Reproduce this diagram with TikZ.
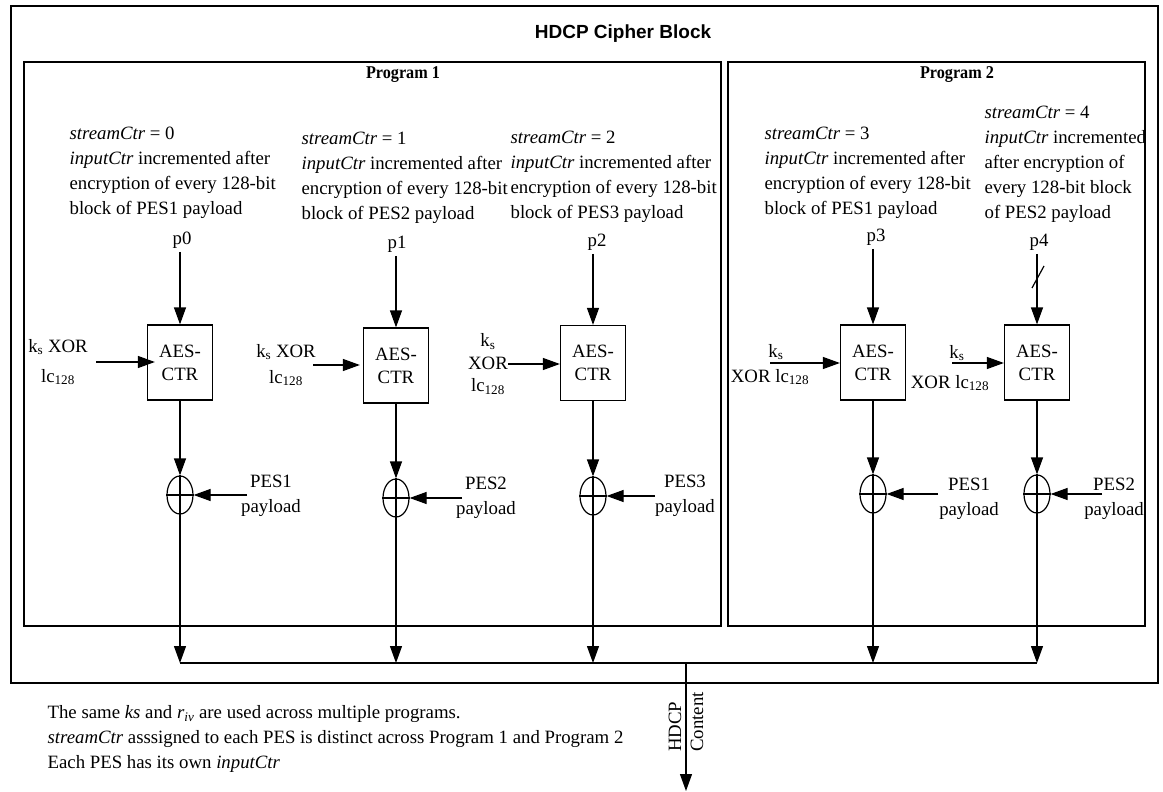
\documentclass[tikz,border=0pt]{standalone}
\usepackage{fontspec}
\usepackage{graphicx}
\setmainfont{Liberation Serif}
\newfontfamily\titlesans{Liberation Sans}
\usetikzlibrary{arrows.meta,shapes.geometric}
\begin{document}
\begin{tikzpicture}[x=1pt,y=-1pt,
  line width=1.2pt,
  tip/.style={-{Triangle[length=17pt,width=12pt]}},
  body/.style={font=\fontsize{18.8}{25}\selectfont, inner sep=0pt},
  desc/.style={body, align=left, anchor=north west},
  plabel/.style={font=\fontsize{18.8}{25}\selectfont, inner sep=3pt},
  progtitle/.style={font=\bfseries\fontsize{18}{20}\selectfont, inner sep=0pt},
  aes/.style={draw, minimum width=65pt, minimum height=75pt, inner sep=0pt, align=center, font=\fontsize{18.8}{23}\selectfont},
  xorc/.style={draw, ellipse, minimum width=26pt, minimum height=38pt, inner sep=0pt},
  frame/.style={draw, line width=1.5pt}]
\useasboundingbox (0,0) rectangle (1163,792);

% frames
\draw[frame] (11,6) rectangle (1158,683);
\node[font=\titlesans\bfseries\fontsize{19}{22}\selectfont, inner sep=0pt] (title) at (623,34) {HDCP Cipher Block};
\draw[frame] (24,62) rectangle (721,626);
\draw[frame] (728,62) rectangle (1145,626);
\node[progtitle] (prog1) at (403,75) {\scalebox{0.9}[1]{Program 1}};
\node[progtitle] (prog2) at (957,75) {\scalebox{0.9}[1]{Program 2}};

% descriptions
\node[desc] (d1) at (69,126) {\textit{streamCtr} = 0\\\textit{inputCtr} incremented after\\encryption of every 128-bit\\block of PES1 payload};
\node[desc] (d2) at (301,131) {\textit{streamCtr} = 1\\\textit{inputCtr} incremented after\\encryption of every 128-bit\\block of PES2 payload};
\node[desc] (d3) at (510,130) {\textit{streamCtr} = 2\\\textit{inputCtr} incremented after\\encryption of every 128-bit\\block of PES3 payload};
\node[desc] (d4) at (764,126) {\textit{streamCtr} = 3\\\textit{inputCtr} incremented after\\encryption of every 128-bit\\block of PES1 payload};
\node[desc] (d5) at (984,105) {\textit{streamCtr} = 4\\\textit{inputCtr} incremented\\after encryption of\\every 128-bit block\\of PES2 payload};

% p labels
\node[plabel] (p0) at (182,240) {p0};
\node[plabel] (p1) at (397,244) {p1};
\node[plabel] (p2) at (597,242) {p2};
\node[plabel] (p3) at (876,237) {p3};
\node[plabel] (p4) at (1039,242) {p4};

% AES boxes
\node[aes] (a1) at (180,362.5) {AES-\\CTR};
\node[aes] (a2) at (396,365.5) {AES-\\CTR};
\node[aes] (a3) at (593,363) {AES-\\CTR};
\node[aes] (a4) at (873,362.5) {AES-\\CTR};
\node[aes] (a5) at (1037,362.5) {AES-\\CTR};

\draw[tip] (a1.north |- p0.south) -- (a1.north);
\draw[tip] (a2.north |- p1.south) -- (a2.north);
\draw[tip] (a3.north |- p2.south) -- (a3.north);
\draw[tip] (a4.north |- p3.south) -- (a4.north);
\draw[tip] (a5.north |- p4.south) -- (a5.north);
\draw (1032,288) -- (1044,266);

% key inputs
\node[body, align=center, font=\fontsize{18.8}{30}\selectfont] (k1) at (58,362) {k\textsubscript{s} XOR\\lc\textsubscript{128}};
\node[body, align=center, font=\fontsize{18.8}{26}\selectfont] (k2) at (286,365) {k\textsubscript{s} XOR\\lc\textsubscript{128}};
\node[body, align=center, font=\fontsize{18.8}{22.5}\selectfont] (k3) at (488,364) {k\textsubscript{s}\\XOR\\lc\textsubscript{128}};
\node[body] (ks4) at (776,352) {k\textsubscript{s}};
\node[body] (kx4) at (770,377) {XOR lc\textsubscript{128}};
\node[body] (ks5) at (957,353) {k\textsubscript{s}};
\node[body] (kx5) at (950,383) {XOR lc\textsubscript{128}};
\coordinate (c4) at (770,363);
\coordinate (c5) at (952,363);

\draw[tip] ([xshift=8pt]k1.east) -- ([xshift=8pt]k1.east -| a1.west);
\draw[tip] ([xshift=-3pt]k2.east) -- ([xshift=-3pt]k2.east -| a2.west);
\draw[tip] (k3.east) -- (k3.east -| a3.west);
\draw[tip] (c4) -- (c4 -| a4.west);
\draw[tip] (c5) -- (c5 -| a5.west);

% XOR circles
\node[xorc] (o1) at (180,495) {};
\node[xorc] (o2) at (396,498) {};
\node[xorc] (o3) at (593,496) {};
\node[xorc] (o4) at (873,494) {};
\node[xorc] (o5) at (1037,494) {};
\foreach \i in {1,...,5}{
  \draw[tip] (a\i.south) -- (o\i.north);
  \draw (o\i.west) -- (o\i.east);
}

% payload labels
\node[body, align=center] (pes1) at (271,496) {PES1\\payload};
\node[body, align=center] (pes2) at (486,498) {PES2\\payload};
\node[body, align=center] (pes3) at (685,496) {PES3\\payload};
\node[body, align=center] (pes4) at (969,499) {PES1\\payload};
\node[body, align=center] (pes5) at (1114,499) {PES2\\payload};
\coordinate (e1) at (247,495);
\coordinate (e2) at (462,498);
\coordinate (e3) at (655,496);
\coordinate (e4) at (938,494);
\coordinate (e5) at (1102,494);
\foreach \i in {1,...,5}{
  \draw[tip] (e\i) -- (o\i.east);
}

% bus
\coordinate (b1) at (180,663);
\coordinate (b2) at (396,663);
\coordinate (b3) at (593,663);
\coordinate (b4) at (873,663);
\coordinate (b5) at (1037,663);
\foreach \i in {1,...,5}{
  \draw[tip] (o\i.north) -- (b\i);
}
\draw (b1) -- (b5);
\coordinate (out) at (686,663);
\coordinate (outend) at (686,791);
\draw[tip] (out) -- (outend);
\node[body, rotate=90, align=left, font=\fontsize{18.8}{22}\selectfont] (hc) at (686,722) {HDCP\\Content};

% footnote
\node[desc] (note) at (47,705) {The same \textit{ks} and \textit{r}\textsubscript{\textit{iv}} are used across multiple programs.\\\textit{streamCtr} asssigned to each PES is distinct across Program 1 and Program 2\\Each PES has its own \textit{inputCtr}};
\end{tikzpicture}
\end{document}
